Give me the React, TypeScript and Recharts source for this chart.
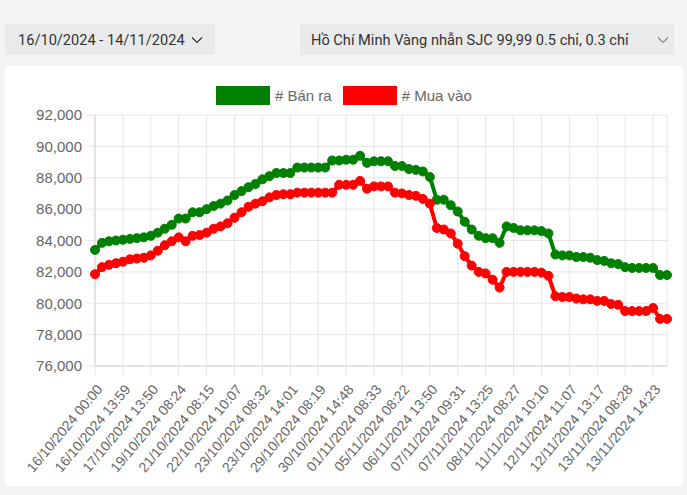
import React from 'react';
import { LineChart, Line, XAxis, YAxis, CartesianGrid } from 'recharts';

// giá vàng (nghìn đồng / lượng)
const sellPrices = [
    83400, 83850, 83950, 84000, 84050, 84100, 84150, 84200, 84300, 84500,
    84750, 85000, 85400, 85400, 85800, 85800, 86000, 86200, 86350, 86550,
    86900, 87150, 87400, 87600, 87900, 88100, 88300, 88300, 88300, 88650,
    88650, 88650, 88650, 88650, 89100, 89100, 89150, 89150, 89400, 88950,
    89050, 89050, 89050, 88750, 88750, 88550, 88500, 88400, 88050, 86600,
    86600, 86250, 85850, 85200, 84700, 84300, 84150, 84150, 83850, 84900,
    84800, 84650, 84650, 84650, 84600, 84450, 83100, 83050, 83050, 82950,
    82950, 82900, 82750, 82700, 82550, 82500, 82300, 82250, 82250, 82250,
    82250, 81800, 81800,
];

const buyPrices = [
    81850, 82300, 82450, 82550, 82650, 82800, 82850, 82900, 83050, 83350,
    83700, 83950, 84200, 83950, 84300, 84350, 84500, 84750, 84900, 85100,
    85450, 85800, 86150, 86350, 86500, 86750, 86900, 86950, 86950, 87050,
    87050, 87050, 87050, 87050, 87050, 87550, 87550, 87550, 87800, 87300,
    87450, 87450, 87450, 87050, 87000, 86900, 86850, 86650, 86350, 84800,
    84700, 84450, 83800, 83000, 82400, 82000, 81900, 81500, 81000, 82000,
    82000, 82000, 82000, 82000, 81950, 81750, 80450, 80400, 80400, 80300,
    80250, 80250, 80150, 80150, 79950, 79900, 79500, 79500, 79500, 79500,
    79700, 79000, 79000,
];

const tickLabels = [
    '16/10/2024 00:00', '16/10/2024 13:59', '17/10/2024 13:50', '19/10/2024 08:24',
    '21/10/2024 08:15', '22/10/2024 10:07', '23/10/2024 08:32', '23/10/2024 14:01',
    '29/10/2024 08:19', '30/10/2024 14:48', '01/11/2024 08:33', '05/11/2024 08:22',
    '06/11/2024 13:50', '07/11/2024 09:31', '07/11/2024 13:25', '08/11/2024 08:27',
    '11/11/2024 10:10', '12/11/2024 11:07', '12/11/2024 13:17', '13/11/2024 08:28',
    '13/11/2024 14:23',
];

const yTicks = [76000, 78000, 80000, 82000, 84000, 86000, 88000, 90000, 92000];

const POINTS_PER_TICK = 4;
const FONT = '"Liberation Sans", Arial, sans-serif';
const GRID = '#e6e6e6';

const data = sellPrices.map((sell, i) => ({ idx: i, sell, buy: buyPrices[i] }));
const xTicks = tickLabels.map((_, k) => k * POINTS_PER_TICK);

const AngledTick = (props: any) => {
    const { x, y, payload } = props;
    const tx = x + 4.5;
    const ty = y + 10.5;
    return (
        <text
            x={tx}
            y={ty}
            transform={`rotate(-50, ${tx}, ${ty})`}
            textAnchor="end"
            dominantBaseline="central"
            fontSize={14}
            fontFamily={FONT}
            fill="#666"
        >
            {tickLabels[Math.round(payload.value / POINTS_PER_TICK)]}
        </text>
    );
};

const Chevron = ({ color, left }: { color: string; left: number }) => (
    <svg width="12" height="8" viewBox="0 0 12 8" style={{ position: 'absolute', left, top: 12 }}>
        <polyline points="1,1.5 6,6.5 11,1.5" fill="none" stroke={color} strokeWidth="1.2" />
    </svg>
);

const dropdown: React.CSSProperties = {
    position: 'absolute',
    top: 24,
    height: 31,
    background: '#e9eaec',
    display: 'flex',
    alignItems: 'center',
    fontFamily: 'Roboto, sans-serif',
    fontSize: 14.6,
    color: '#333',
};

const legendItem = (color: string, label: string) => (
    <div style={{ display: 'flex', alignItems: 'center', marginRight: 11 }}>
        <div style={{ width: 54, height: 19, background: color, marginRight: 5 }} />
        <span>{label}</span>
    </div>
);

const App = () => {
    return (
        <div
            style={{
                position: 'absolute',
                left: 0,
                top: 0,
                width: 687,
                height: 495,
                background: '#f3f4f5',
                overflow: 'hidden',
            }}
        >
            <div style={{ ...dropdown, left: 5, width: 210 }}>
                <span style={{ marginLeft: 13 }}>16/10/2024 - 14/11/2024</span>
                <Chevron color="#333" left={186} />
            </div>
            <div style={{ ...dropdown, left: 300, width: 374 }}>
                <span style={{ marginLeft: 11 }}>Hồ Chí Minh Vàng nhẫn SJC 99,99 0.5 chỉ, 0.3 chỉ</span>
                <Chevron color="#888" left={357} />
            </div>

            <div style={{ position: 'absolute', left: 5, top: 66, width: 678, height: 420, background: '#fff' }}>
                <div
                    style={{
                        position: 'absolute',
                        left: 211,
                        top: 20,
                        display: 'flex',
                        fontFamily: FONT,
                        fontSize: 15,
                        color: '#666',
                    }}
                >
                    {legendItem('#008000', '# Bán ra')}
                    {legendItem('#ff0000', '# Mua vào')}
                </div>
                <LineChart
                    width={678}
                    height={420}
                    data={data}
                    margin={{ top: 49, right: 16, bottom: 20, left: 0 }}
                >
                    <CartesianGrid stroke={GRID} />
                    <XAxis
                        dataKey="idx"
                        type="number"
                        domain={[0, sellPrices.length - 1]}
                        ticks={xTicks}
                        interval={0}
                        height={100}
                        tickSize={10}
                        tickMargin={0}
                        tickLine={{ stroke: GRID }}
                        axisLine={{ stroke: '#d4d4d4' }}
                        tick={<AngledTick />}
                    />
                    <YAxis
                        type="number"
                        domain={[76000, 92000]}
                        ticks={yTicks}
                        interval={0}
                        width={90}
                        tickSize={9}
                        tickMargin={4}
                        tickLine={{ stroke: GRID }}
                        axisLine={{ stroke: '#d4d4d4' }}
                        tick={{ fontSize: 15, fontFamily: FONT, fill: '#666' }}
                        tickFormatter={(v: number) => v.toLocaleString('en-US')}
                    />
                    <Line
                        type="linear"
                        dataKey="sell"
                        stroke="#008000"
                        strokeWidth={4}
                        dot={{ r: 4.5, fill: '#008000', stroke: '#008000', strokeWidth: 1 }}
                        activeDot={false}
                        isAnimationActive={false}
                    />
                    <Line
                        type="linear"
                        dataKey="buy"
                        stroke="#ff0000"
                        strokeWidth={4}
                        dot={{ r: 4.5, fill: '#ff0000', stroke: '#ff0000', strokeWidth: 1 }}
                        activeDot={false}
                        isAnimationActive={false}
                    />
                </LineChart>
            </div>
        </div>
    );
};

export default App;
